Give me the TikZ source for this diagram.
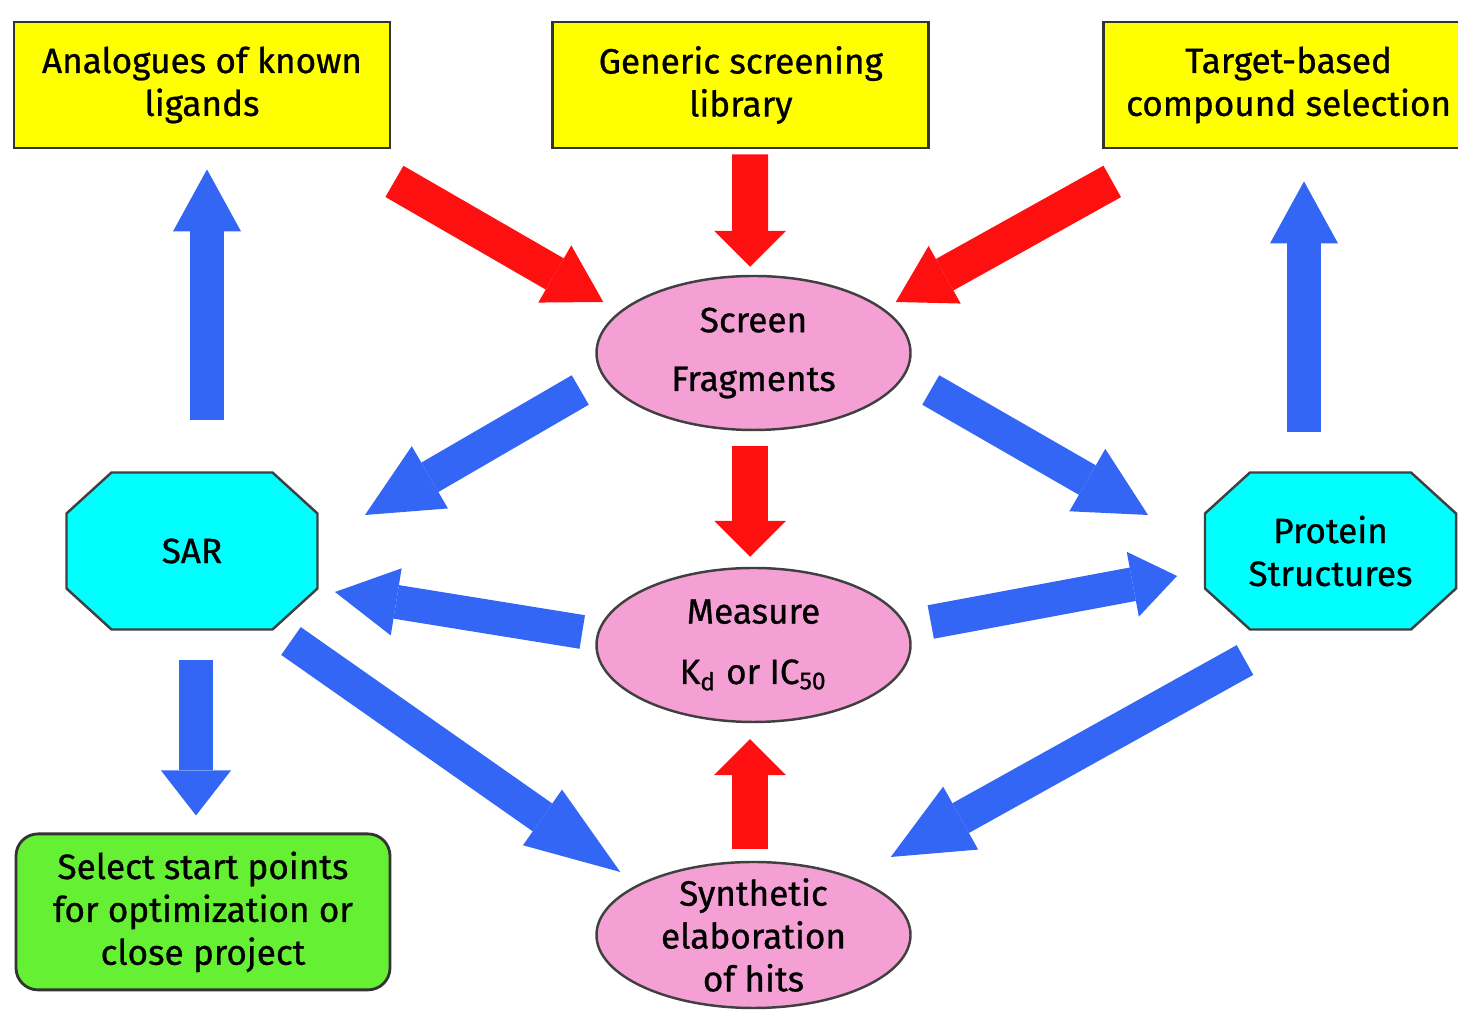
\documentclass[tikz,border=0pt]{standalone}
\usepackage{fontspec}
\setmainfont{Fira Sans}[FakeBold=0.8]
\usepackage{xcolor}
\usetikzlibrary{shapes.geometric, arrows.meta, positioning, backgrounds}
\definecolor{srcyellow}{RGB}{255,255,0}
\definecolor{stagepink}{RGB}{244,160,212}
\definecolor{resultcyan}{RGB}{0,255,255}
\definecolor{endgreen}{RGB}{102,240,51}
\definecolor{flowred}{RGB}{255,16,16}
\definecolor{flowblue}{RGB}{51,102,245}
\tikzset{
  source/.style={rectangle, draw=black!80, fill=srcyellow, line width=0.8pt,
                 minimum width=3.76cm, minimum height=1.26cm, align=center,
                 font=\fontsize{10}{12.2}\selectfont},
  stage/.style={ellipse, draw=black!75, fill=stagepink, line width=0.7pt,
                minimum width=3.14cm, minimum height=1.54cm, inner sep=0pt,
                align=center, font=\fontsize{10}{12.2}\selectfont},
  result/.style={rectangle, minimum width=2.51cm, minimum height=1.57cm,
                 inner sep=0pt, outer sep=0pt, align=center,
                 font=\fontsize{10}{12.2}\selectfont},
  octagon/.style={draw=black!75, fill=resultcyan, line width=0.7pt},
  finish/.style={rectangle, rounded corners=0.22cm, draw=black!80, fill=endgreen,
                 line width=0.8pt, minimum width=3.74cm, minimum height=1.56cm,
                 align=center, font=\fontsize{10}{12.2}\selectfont},
  redflow/.style={draw=flowred, line width=0.36cm,
                  -{Triangle[width=0.72cm, length=0.36cm, line width=0pt]}},
  blueflow/.style={draw=flowblue, line width=0.34cm,
                   -{Triangle[width=0.68cm, length=0.62cm, line width=0pt]}},
}

\begin{document}
\begin{tikzpicture}
  \useasboundingbox (0,0) rectangle (14.58,10.11);

  % --- Compound sources ---
  \node[source] (ana) at (2.02,9.26) {Analogues of known\\ ligands};
  \node[source, right=1.6cm of ana] (gen) {Generic screening\\ library};
  \node[source, right=1.72cm of gen, minimum width=3.70cm] (tgt) {Target-based\\ compound selection};

  % --- Central cycle ---
  \node[stage] (screen) at (7.535,6.58) {Screen\\[4.5pt] Fragments};
  \node[stage] (measure) at (7.535,3.66) {Measure\\[5pt] K\textsubscript{d} or IC\textsubscript{50}};
  \node[stage, minimum height=1.46cm, inner ysep=-0.25cm] (synth) at (7.535,0.76)
        {Synthetic\\ elaboration\\ of hits};

  % --- Results ---
  \node[result] (sar) at (1.92,4.60) {SAR};
  \node[result] (prot) at (13.305,4.60) {Protein\\ Structures};
  \node[finish, below=2.03cm of sar, xshift=1.1mm] (sel) {Select start points\\ for optimization or\\ close project};

  % octagon outlines behind the result texts
  \begin{scope}[on background layer]
    \foreach \n in {sar, prot}
      \draw[octagon] ([xshift=4.5mm]\n.north west) -- ([xshift=-4.5mm]\n.north east)
        -- ([yshift=-4.1mm]\n.north east) -- ([yshift=4.1mm]\n.south east)
        -- ([xshift=-4.5mm]\n.south east) -- ([xshift=4.5mm]\n.south west)
        -- ([yshift=4.1mm]\n.south west) -- ([yshift=-4.1mm]\n.north west) -- cycle;
  \end{scope}

  % --- Red arrows ---
  \draw[redflow, -{Triangle[width=0.66cm, length=0.56cm, line width=0pt]}]
        ([shift={(0.03,-0.32)}]ana.south east) -- ([shift={(0.08,0.51)}]screen.west);
  \draw[redflow] ([xshift=-0.35mm, yshift=-0.5mm]gen.south -| screen.north)
        -- ([shift={(-0.035,0.08)}]screen.north);
  \draw[redflow, -{Triangle[width=0.66cm, length=0.56cm, line width=0pt]}]
        ([shift={(0.10,-0.32)}]tgt.south west) -- ([shift={(-0.16,0.51)}]screen.east);
  \draw[redflow] ([shift={(-0.035,-0.15)}]screen.south) -- ([shift={(-0.035,0.10)}]measure.north);
  \draw[redflow] ([shift={(-0.035,0.12)}]synth.north) -- ([shift={(-0.035,-0.16)}]measure.south);

  % --- Blue arrows ---
  \draw[blueflow] ([shift={(0.15,0.525)}]sar.north) coordinate (sarup)
        -- ([yshift=-2mm]ana.south -| sarup);
  \draw[blueflow] ([shift={(-0.265,0.405)}]prot.north) coordinate (protup)
        -- ([yshift=-3.2mm]tgt.south -| protup);
  \draw[blueflow, -{Triangle[width=0.72cm, length=0.75cm, line width=0pt]}]
        ([shift={(-0.15,-0.37)}]screen.west) -- ([shift={(0.475,0.36)}]sar.east);
  \draw[blueflow, -{Triangle[width=0.72cm, length=0.70cm, line width=0pt]}]
        ([shift={(0.19,-0.37)}]screen.east) -- ([shift={(-0.57,0.36)}]prot.west);
  \draw[blueflow] ([shift={(-0.13,0.13)}]measure.west) -- ([shift={(0.175,-0.41)}]sar.east);
  \draw[blueflow, -{Triangle[width=0.66cm, length=0.45cm, line width=0pt]}]
        ([shift={(0.19,0.23)}]measure.east) -- ([shift={(-0.28,-0.25)}]prot.west);
  \draw[blueflow, -{Triangle[width=0.68cm, length=0.95cm, line width=0pt]}]
        ([shift={(0.99,-0.115)}]sar.south) -- ([shift={(0.25,0.63)}]synth.west);
  \draw[blueflow, -{Triangle[width=0.72cm, length=0.80cm, line width=0pt]}]
        ([shift={(-0.855,-0.305)}]prot.south) -- ([shift={(-0.21,0.78)}]synth.east);
  \draw[blueflow, -{Triangle[width=0.70cm, length=0.45cm, line width=0pt]}]
        ([shift={(0.04,-0.305)}]sar.south) -- ([shift={(-0.07,0.17)}]sel.north);

\end{tikzpicture}
\end{document}
